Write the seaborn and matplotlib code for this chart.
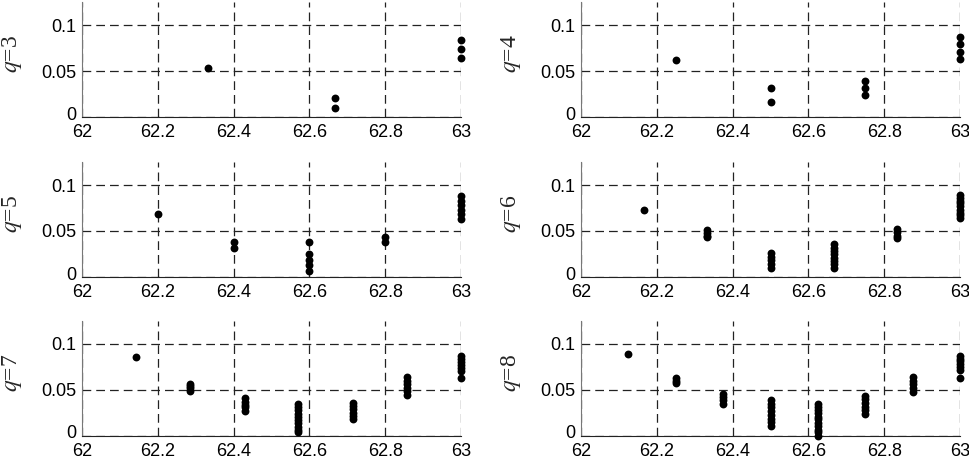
import numpy as np
import pandas as pd
import matplotlib
matplotlib.use("Agg")
import matplotlib.pyplot as plt
import matplotlib.transforms as mtransforms
import seaborn as sns

# dot clusters per panel: x position and the y values stacked at that x
q3_x = [62.333, 62.667, 63.0]
q3_y = [[0.053], [0.021, 0.010], [0.084, 0.074, 0.064]]

q4_x = [62.25, 62.5, 62.75, 63.0]
q4_y = [[0.062], [0.031, 0.016], [0.039, 0.032, 0.024],
        [0.087, 0.079, 0.071, 0.063]]

q5_x = [62.2, 62.4, 62.6, 62.8, 63.0]
q5_y = [[0.069], [0.038, 0.031], [0.038, 0.025, 0.019, 0.013, 0.0065],
        [0.043, 0.038], [0.088, 0.083, 0.078, 0.073, 0.068, 0.063]]

q6_x = [62.167, 62.333, 62.5, 62.667, 62.833, 63.0]
q6_y = [[0.073], [0.051, 0.048, 0.045, 0.043],
        [0.026, 0.022, 0.018, 0.014, 0.010],
        [0.036, 0.032, 0.028, 0.025, 0.021, 0.017, 0.014, 0.010],
        [0.052, 0.049, 0.045, 0.042],
        [0.089, 0.086, 0.083, 0.080, 0.077, 0.073, 0.070, 0.067, 0.064]]

q7_x = [62.143, 62.286, 62.429, 62.571, 62.714, 62.857, 63.0]
q7_y = [[0.086], [0.057, 0.054, 0.052, 0.049],
        [0.041, 0.037, 0.034, 0.031, 0.027],
        [0.035, 0.031, 0.028, 0.024, 0.021, 0.017, 0.014, 0.010, 0.007, 0.004],
        [0.036, 0.033, 0.029, 0.025, 0.022, 0.018],
        [0.064, 0.060, 0.056, 0.052, 0.049, 0.045],
        [0.087, 0.084, 0.080, 0.077, 0.074, 0.071, 0.063]]

q8_x = [62.125, 62.25, 62.375, 62.5, 62.625, 62.75, 62.875, 63.0]
q8_y = [[0.089], [0.063, 0.060, 0.058], [0.046, 0.042, 0.039, 0.035],
        [0.039, 0.035, 0.031, 0.027, 0.023, 0.019, 0.015, 0.011],
        [0.035, 0.032, 0.028, 0.025, 0.021, 0.018, 0.014, 0.011, 0.007, 0.004, 0.000],
        [0.044, 0.040, 0.036, 0.032, 0.028, 0.024],
        [0.064, 0.060, 0.056, 0.052, 0.048],
        [0.087, 0.084, 0.081, 0.078, 0.075, 0.072, 0.063]]

panels = [(3, q3_x, q3_y), (4, q4_x, q4_y), (5, q5_x, q5_y),
          (6, q6_x, q6_y), (7, q7_x, q7_y), (8, q8_x, q8_y)]

x_ticks = [62, 62.2, 62.4, 62.6, 62.8, 63]
x_labels = ["62", "62.2", "62.4", "62.6", "62.8", "63"]
y_ticks = [0, 0.05, 0.1]
y_labels = ["0", "0.05", "0.1"]

sns.set_style("white")
plt.rcParams["font.family"] = ["Liberation Sans", "DejaVu Sans"]
plt.rcParams["mathtext.fontset"] = "stix"

fig = plt.figure(figsize=(9.69, 4.62), dpi=100)

W, H = 969, 462
lefts = [82, 581]
tops = [2, 162, 321]
aw, ah = 379, 115

for i, (q, xs, ys) in enumerate(panels):
    row, col = i // 2, i % 2
    ax = fig.add_axes([lefts[col] / W, 1 - (tops[row] + ah) / H, aw / W, ah / H])
    df = pd.DataFrame([(x, y) for x, vals in zip(xs, ys) for y in vals],
                      columns=["x", "y"])
    sns.scatterplot(data=df, x="x", y="y", ax=ax, color="black", s=32,
                    linewidth=0, clip_on=False, zorder=3)
    ax.set_xlim(62, 63)
    ax.set_ylim(0, 0.125)
    ax.set_xticks(x_ticks)
    ax.set_xticklabels(x_labels)
    ax.set_yticks(y_ticks)
    ax.set_yticklabels(y_labels)
    ax.grid(True, linestyle=(0, (7, 4)), color="#222222", linewidth=0.9)
    ax.set_axisbelow(True)
    for s in ["top", "right"]:
        ax.spines[s].set_visible(False)
    ax.spines["left"].set_color("#777777")
    ax.spines["bottom"].set_color("#222222")
    ax.tick_params(direction="in", length=3, width=0.8, colors="#555555",
                   labelcolor="black", labelsize=13)
    ax.tick_params(axis="x", pad=5)
    ax.tick_params(axis="y", pad=4)
    # lift the "0" label a little so it clears the x labels
    zero = ax.get_yticklabels()[0]
    zero.set_transform(zero.get_transform() +
                       mtransforms.ScaledTranslation(0, 4 / 100, fig.dpi_scale_trans))
    ax.set_xlabel("")
    ax.set_ylabel(f"$q$={q}", family=["Liberation Serif", "DejaVu Serif"],
                  fontsize=17)
    ax.yaxis.set_label_coords(-0.153, 0.55)

fig.savefig("out.png", dpi=100)
